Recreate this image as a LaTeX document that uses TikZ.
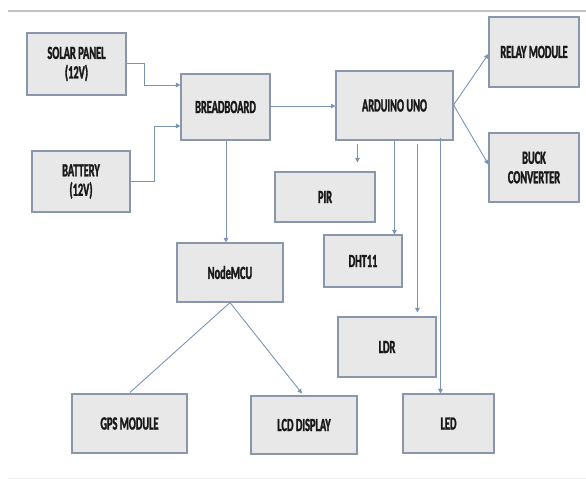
\documentclass[tikz,border=0pt]{standalone}
\usepackage{fontspec}
\setmainfont[FakeStretch=0.56,BoldFeatures={FakeBold=1.6}]{Carlito}
\usetikzlibrary{arrows.meta,calc}
\definecolor{boxfill}{HTML}{E8E8E8}
\definecolor{boxline}{HTML}{8A97AB}
\definecolor{conn}{HTML}{7B93B5}
\definecolor{rule}{HTML}{C2C2C2}
\begin{document}
\begin{tikzpicture}[x=1pt,y=-1pt,
  blk/.style={draw=boxline,fill=boxfill,line width=1.1pt,inner sep=0pt,align=center,
    font=\fontsize{18.5}{19.5}\selectfont\bfseries,text=black!90},
  wire/.style={draw=conn,line width=0.9pt},
  arr/.style={wire,-{Triangle[width=4.5pt,length=4.5pt]}}]
\useasboundingbox (0,0) rectangle (586,479);
\draw[rule,line width=2pt] (8,11) -- (586,11);
\draw[black!5,line width=1pt] (8,478) -- (586,478);
% boxes
\node[blk,minimum width=99pt,minimum height=62pt] (solar) at (76.5,64) {SOLAR PANEL\\(12V)};
\node[blk,minimum width=98pt,minimum height=61pt] (battery) at (81,181.5) {BATTERY\\(12V)};
\node[blk,minimum width=89pt,minimum height=66pt] (bread) at (225.5,107) {BREADBOARD};
\node[blk,minimum width=117pt,minimum height=69pt] (arduino) at (394.5,105.5) {ARDUINO UNO};
\node[blk,minimum width=90pt,minimum height=70pt] (relay) at (534,52) {RELAY MODULE};
\node[blk,minimum width=90pt,minimum height=69pt] (buck) at (534,167.5) {BUCK\\CONVERTER};
\node[blk,minimum width=100pt,minimum height=50pt] (pir) at (325,197) {PIR};
\node[blk,minimum width=78pt,minimum height=52pt] (dht) at (363,261) {DHT11};
\node[blk,minimum width=98pt,minimum height=60pt] (ldr) at (387,347) {LDR};
\node[blk,minimum width=91pt,minimum height=59pt] (led) at (448.5,423.5) {LED};
\node[blk,minimum width=106pt,minimum height=59pt] (nodemcu) at (230,272.5) {NodeMCU};
\node[blk,minimum width=115pt,minimum height=59pt] (gps) at (129.5,423.5) {GPS MODULE};
\node[blk,minimum width=106pt,minimum height=58pt] (lcd) at (304,425) {LCD DISPLAY};
% connectors
\draw[arr] ([yshift=1pt]solar.east) -- ++(18,0) |- ([yshift=22pt]bread.west);
\draw[arr] ([yshift=0.5pt]battery.east) -- ++(24,0) |- ([yshift=-19pt]bread.west);
\draw[arr] ([yshift=1pt]bread.east) -- ([yshift=1pt]bread.east -| arduino.west);
\draw[arr] ([xshift=0.5pt]bread.south) -- ([xshift=0.5pt]bread.south |- nodemcu.north);
\draw[arr] ([yshift=0.5pt]arduino.east) -- ([yshift=-2pt]relay.west);
\draw[arr] ([yshift=0.5pt]arduino.east) -- ([yshift=3pt]buck.west);
\draw[arr,shorten <=3pt,shorten >=9pt] ([xshift=22pt]arduino.south west) -- ([xshift=22pt]arduino.south west |- pir.north);
\draw[arr] ([xshift=59pt]arduino.south west) -- ([xshift=59pt]arduino.south west |- dht.north);
\draw[arr,shorten <=3pt,shorten >=4pt] ([xshift=82pt]arduino.south west) -- ([xshift=82pt]arduino.south west |- ldr.north);
\draw[arr,shorten <=-3pt] ([xshift=105pt]arduino.south west) -- ([xshift=105pt]arduino.south west |- led.north);
\draw[arr] (nodemcu.south) -- ([xshift=-2pt,yshift=2pt]lcd.north);
\draw[wire] (nodemcu.south) -- ([xshift=0.5pt,yshift=1pt]gps.north);
\end{tikzpicture}
\end{document}
